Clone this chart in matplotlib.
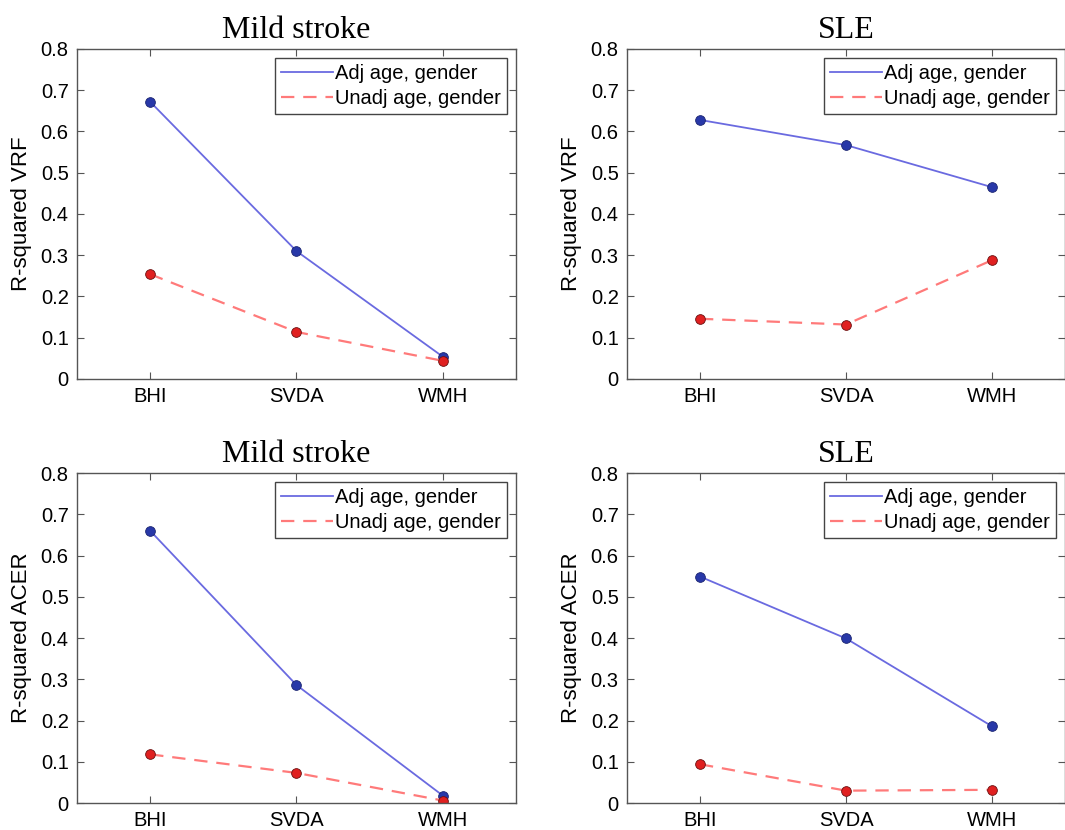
import numpy as np
import matplotlib
matplotlib.use("Agg")
import matplotlib.pyplot as plt

# Donnees
categories = ["BHI", "SVDA", "WMH"]
titles = ["Mild stroke", "SLE", "Mild stroke", "SLE"]
ylabels = ["R-squared VRF", "R-squared VRF", "R-squared ACER", "R-squared ACER"]

vrf_stroke_adj = [0.672, 0.310, 0.054]
vrf_stroke_unadj = [0.254, 0.114, 0.044]
vrf_sle_adj = [0.628, 0.567, 0.465]
vrf_sle_unadj = [0.146, 0.132, 0.288]
acer_stroke_adj = [0.660, 0.286, 0.018]
acer_stroke_unadj = [0.118, 0.073, 0.006]
acer_sle_adj = [0.549, 0.399, 0.186]
acer_sle_unadj = [0.094, 0.030, 0.032]

adj_series = [vrf_stroke_adj, vrf_sle_adj, acer_stroke_adj, acer_sle_adj]
unadj_series = [vrf_stroke_unadj, vrf_sle_unadj, acer_stroke_unadj, acer_sle_unadj]

plt.rcParams['font.family'] = ['Liberation Sans', 'DejaVu Sans']

fig = plt.figure(figsize=(10.65, 8.3), dpi=100)

# positions des axes (fraction de la figure)
positions = [
    [0.0723, 0.5434, 0.4122, 0.3976],
    [0.5887, 0.5434, 0.4113, 0.3976],
    [0.0723, 0.0325, 0.4122, 0.3976],
    [0.5887, 0.0325, 0.4113, 0.3976],
]

x = np.arange(1, len(categories) + 1)

for i in range(4):
    ax = fig.add_axes(positions[i])
    ax.plot(x, adj_series[i], '-', color='#6a6ae0', lw=1.3,
            marker='o', ms=7, mfc='#2838a8', mec='#1a2470', mew=0.6,
            label='Adj age, gender')
    ax.plot(x, unadj_series[i], '--', color='#ff7a7a', lw=1.6, dashes=(6, 4),
            marker='o', ms=7, mfc='#e02020', mec='#6a1010', mew=0.6,
            label='Unadj age, gender')
    ax.set_xlim(0.5, 3.5)
    ax.set_ylim(0, 0.8)
    ax.set_xticks(x)
    ax.set_xticklabels(categories)
    ax.set_yticks(np.arange(0, 0.81, 0.1))
    ax.set_yticklabels(['0'] + ['%.1f' % v for v in np.arange(0.1, 0.81, 0.1)])
    ax.tick_params(direction='in', top=True, right=True, labelsize=14.5,
                   length=5, width=0.8, color='#555555', pad=6)
    for s in ax.spines.values():
        s.set_color('#555555')
        s.set_linewidth(1.0)
    ax.set_ylabel(ylabels[i], fontsize=16, labelpad=6)
    ax.set_title(titles[i], fontsize=23, family='Liberation Serif', pad=8)
    leg = ax.legend(loc='upper right', fontsize=14.5, fancybox=False,
                    framealpha=1, edgecolor='#444444', handlelength=2.6,
                    handletextpad=0.1, borderpad=0.3, labelspacing=0.3,
                    borderaxespad=0.45, markerscale=0)
    for h in leg.legend_handles:
        h.set_marker('')
    leg.get_frame().set_linewidth(1.0)

fig.savefig('out.png', dpi=100)
